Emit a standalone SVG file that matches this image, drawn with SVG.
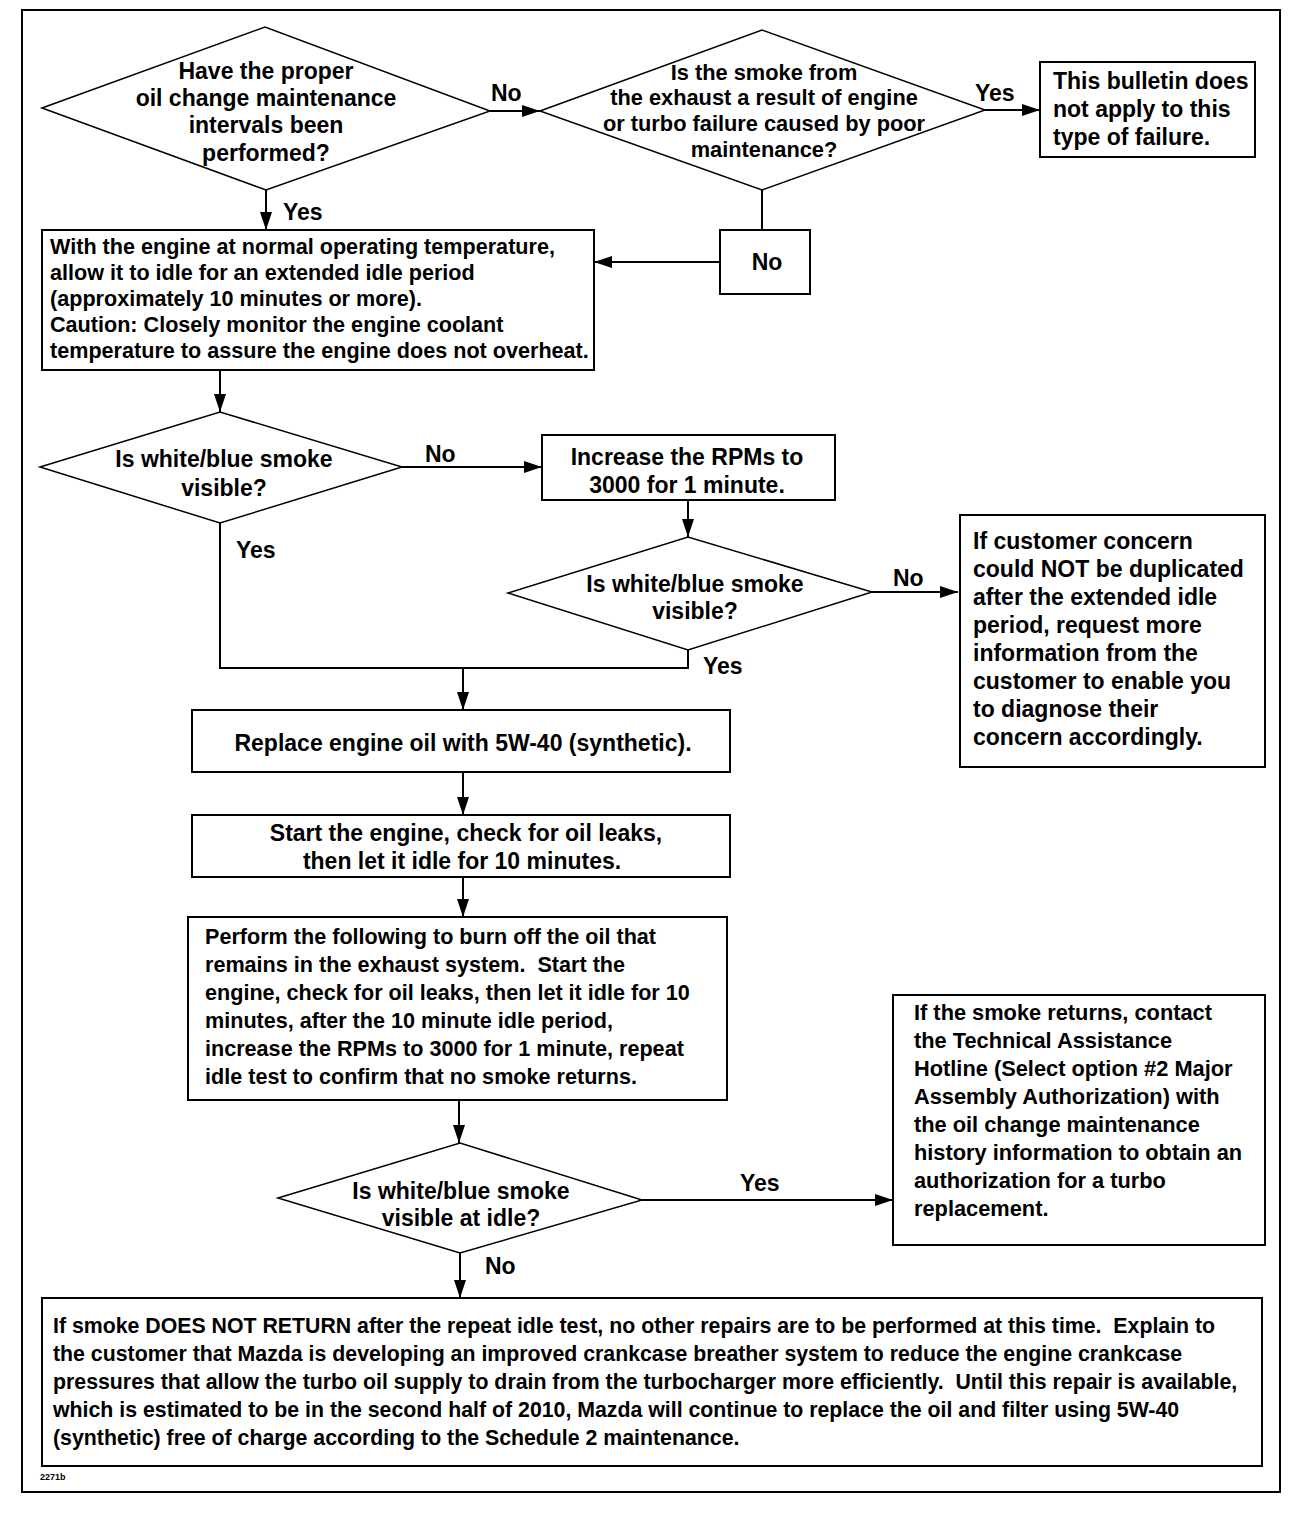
<svg xmlns="http://www.w3.org/2000/svg" width="1312" height="1514" viewBox="0 0 1312 1514">
<style>
.s{fill:#fff;stroke:#000;stroke-width:2}
.d{fill:#fff;stroke:#000;stroke-width:1.5}
.c{fill:none;stroke:#000;stroke-width:2}
text{font-family:"Liberation Sans",Arial,sans-serif;font-size:23px;font-weight:bold;fill:#000;white-space:pre}
.m{text-anchor:middle}
.t2{font-size:21.8px}
.t3{font-size:21.6px}
.t4{font-size:21.3px}
.sm{font-size:9px;font-weight:bold}
</style>
<defs>
<marker id="a" markerUnits="userSpaceOnUse" markerWidth="18" markerHeight="12" refX="18" refY="6" orient="auto">
<path d="M0,0 L18,6 L0,12 z" fill="#000"/>
</marker>
</defs>
<rect x="0" y="0" width="1312" height="1514" fill="#fff"/>
<rect x="22" y="10" width="1258" height="1482" fill="none" stroke="#000" stroke-width="2"/>

<g id="connectors">
<line class="c" x1="490" y1="111" x2="540" y2="111" marker-end="url(#a)"/>
<line class="c" x1="985" y1="110" x2="1040" y2="110" marker-end="url(#a)"/>
<line class="c" x1="762" y1="190" x2="762" y2="230"/>
<line class="c" x1="720" y1="262" x2="594" y2="262" marker-end="url(#a)"/>
<line class="c" x1="266" y1="190" x2="266" y2="230" marker-end="url(#a)"/>
<line class="c" x1="220" y1="370" x2="220" y2="412" marker-end="url(#a)"/>
<line class="c" x1="402" y1="467" x2="542" y2="467" marker-end="url(#a)"/>
<line class="c" x1="688" y1="500" x2="688" y2="537" marker-end="url(#a)"/>
<line class="c" x1="872" y1="592" x2="958" y2="592" marker-end="url(#a)"/>
<polyline class="c" points="220,523 220,668 688,668 688,650"/>
<line class="c" x1="463" y1="668" x2="463" y2="710" marker-end="url(#a)"/>
<line class="c" x1="463" y1="772" x2="463" y2="815" marker-end="url(#a)"/>
<line class="c" x1="463" y1="877" x2="463" y2="917" marker-end="url(#a)"/>
<line class="c" x1="459" y1="1100" x2="459" y2="1143" marker-end="url(#a)"/>
<line class="c" x1="642" y1="1200" x2="893" y2="1200" marker-end="url(#a)"/>
<line class="c" x1="460" y1="1253" x2="460" y2="1298" marker-end="url(#a)"/>
<text x="491" y="101">No</text>
<text x="975" y="101">Yes</text>
<text x="283" y="220">Yes</text>
<text x="425" y="462">No</text>
<text x="236" y="558">Yes</text>
<text x="893" y="586">No</text>
<text x="703" y="674">Yes</text>
<text x="740" y="1191">Yes</text>
<text x="485" y="1274">No</text>
</g>

<g id="d1">
<polygon class="d" points="42,108 265,27 490,111 266,190"/>
<text class="m" x="266" y="79">Have the proper</text>
<text class="m" x="266" y="106">oil change maintenance</text>
<text class="m" x="266" y="133">intervals been</text>
<text class="m" x="266" y="161">performed?</text>
</g>

<g id="d2">
<polygon class="d" points="540,111 762,30 985,110 762,190"/>
<text class="m t2" x="764" y="80">Is the smoke from</text>
<text class="m t2" x="764" y="105">the exhaust a result of engine</text>
<text class="m t2" x="764" y="131">or turbo failure caused by poor</text>
<text class="m t2" x="764" y="157">maintenance?</text>
</g>

<g id="b_bulletin">
<rect class="s" x="1040" y="62" width="215" height="95"/>
<text x="1053" y="89">This bulletin does</text>
<text x="1053" y="117">not apply to this</text>
<text x="1053" y="145">type of failure.</text>
</g>

<g id="b_no">
<rect class="s" x="720" y="230" width="90" height="64"/>
<text class="m" x="767" y="270">No</text>
</g>

<g id="b1">
<rect class="s" x="42" y="230" width="552" height="140"/>
<text class="t3" x="50" y="254">With the engine at normal operating temperature,</text>
<text class="t3" x="50" y="280">allow it to idle for an extended idle period</text>
<text class="t3" x="50" y="306">(approximately 10 minutes or more).</text>
<text class="t3" x="50" y="332">Caution: Closely monitor the engine coolant</text>
<text class="t3" x="50" y="358">temperature to assure the engine does not overheat.</text>
</g>

<g id="d3">
<polygon class="d" points="40,467 220,412 402,467 220,523"/>
<text class="m" x="224" y="467">Is white/blue smoke</text>
<text class="m" x="224" y="496">visible?</text>
</g>

<g id="b_rpm">
<rect class="s" x="542" y="435" width="293" height="65"/>
<text class="m" x="687" y="465">Increase the RPMs to</text>
<text class="m" x="687" y="493">3000 for 1 minute.</text>
</g>

<g id="d4">
<polygon class="d" points="508,593 688,537 872,592 688,650"/>
<text class="m" x="695" y="592">Is white/blue smoke</text>
<text class="m" x="695" y="619">visible?</text>
</g>

<g id="b_cust">
<rect class="s" x="960" y="515" width="305" height="252"/>
<text x="973" y="549">If customer concern</text>
<text x="973" y="577">could NOT be duplicated</text>
<text x="973" y="605">after the extended idle</text>
<text x="973" y="633">period, request more</text>
<text x="973" y="661">information from the</text>
<text x="973" y="689">customer to enable you</text>
<text x="973" y="717">to diagnose their</text>
<text x="973" y="745">concern accordingly.</text>
</g>

<g id="b_replace">
<rect class="s" x="192" y="710" width="538" height="62"/>
<text class="m" x="463" y="751">Replace engine oil with 5W-40 (synthetic).</text>
</g>

<g id="b_start">
<rect class="s" x="192" y="815" width="538" height="62"/>
<text class="m" x="466" y="841">Start the engine, check for oil leaks,</text>
<text class="m" x="462" y="869">then let it idle for 10 minutes.</text>
</g>

<g id="b_perform">
<rect class="s" x="188" y="917" width="539" height="183"/>
<text class="t3" x="205" y="944">Perform the following to burn off the oil that</text>
<text class="t3" x="205" y="972">remains in the exhaust system.  Start the</text>
<text class="t3" x="205" y="1000">engine, check for oil leaks, then let it idle for 10</text>
<text class="t3" x="205" y="1028">minutes, after the 10 minute idle period,</text>
<text class="t3" x="205" y="1056">increase the RPMs to 3000 for 1 minute, repeat</text>
<text class="t3" x="205" y="1084">idle test to confirm that no smoke returns.</text>
</g>

<g id="d5">
<polygon class="d" points="278,1198 460,1143 642,1200 460,1253"/>
<text class="m" x="461" y="1199">Is white/blue smoke</text>
<text class="m" x="461" y="1226">visible at idle?</text>
</g>

<g id="b_turbo">
<rect class="s" x="893" y="995" width="372" height="250"/>
<text class="t2" x="914" y="1020">If the smoke returns, contact</text>
<text class="t2" x="914" y="1048">the Technical Assistance</text>
<text class="t2" x="914" y="1076">Hotline (Select option #2 Major</text>
<text class="t2" x="914" y="1104">Assembly Authorization) with</text>
<text class="t2" x="914" y="1132">the oil change maintenance</text>
<text class="t2" x="914" y="1160">history information to obtain an</text>
<text class="t2" x="914" y="1188">authorization for a turbo</text>
<text class="t2" x="914" y="1216">replacement.</text>
</g>

<g id="b_final">
<rect class="s" x="42" y="1298" width="1220" height="168"/>
<text class="t4" x="53" y="1333">If smoke DOES NOT RETURN after the repeat idle test, no other repairs are to be performed at this time.  Explain to</text>
<text class="t4" x="53" y="1361">the customer that Mazda is developing an improved crankcase breather system to reduce the engine crankcase</text>
<text class="t4" x="53" y="1389">pressures that allow the turbo oil supply to drain from the turbocharger more efficiently.  Until this repair is available,</text>
<text class="t4" x="53" y="1417">which is estimated to be in the second half of 2010, Mazda will continue to replace the oil and filter using 5W-40</text>
<text class="t4" x="53" y="1445">(synthetic) free of charge according to the Schedule 2 maintenance.</text>
</g>

<text class="sm" x="40" y="1480">2271b</text>
</svg>
